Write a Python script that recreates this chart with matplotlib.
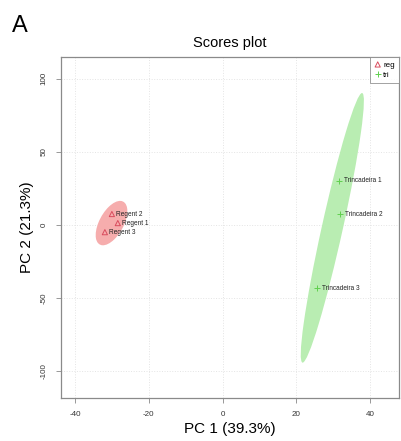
import matplotlib.pyplot as plt
import numpy as np
from matplotlib.patches import Ellipse

plt.rcParams['font.family'] = ['Liberation Sans', 'DejaVu Sans']

# PCA scores
reg_names = ["Regent 1", "Regent 2", "Regent 3"]
reg_pc1 = [-28.4, -30.0, -31.9]
reg_pc2 = [1.4, 7.6, -4.8]

tri_names = ["Trincadeira 1", "Trincadeira 2", "Trincadeira 3"]
tri_pc1 = [31.6, 31.9, 25.7]
tri_pc2 = [30.2, 7.6, -43.3]

xticks = [-40, -20, 0, 20, 40]
yticks = [-100, -50, 0, 50, 100]


def conf_ellipse(x, y, color):
    # 95% ellipse, as R's ellipse() with qchisq(0.95, 2)
    x = np.asarray(x)
    y = np.asarray(y)
    cov = np.cov(x, y)
    vals, vecs = np.linalg.eigh(cov)
    order = vals.argsort()[::-1]
    vals, vecs = vals[order], vecs[:, order]
    t = np.sqrt(5.991)
    angle = np.degrees(np.arctan2(vecs[1, 0], vecs[0, 0]))
    e = Ellipse((x.mean(), y.mean()), 2 * t * np.sqrt(vals[0]), 2 * t * np.sqrt(vals[1]),
                angle=angle, facecolor=color, edgecolor='none', zorder=1)
    return e


fig = plt.figure(figsize=(4.01, 4.41), dpi=100)
ax = fig.add_axes([0.152, 0.098, 0.843, 0.773])

ax.add_patch(conf_ellipse(reg_pc1, reg_pc2, '#F6ADAD'))
ax.add_patch(conf_ellipse(tri_pc1, tri_pc2, '#B9EDB2'))

ax.scatter(reg_pc1, reg_pc2, marker='^', facecolors='none', edgecolors='#D94C5E',
           s=14, linewidths=0.7, zorder=3, label='reg')
ax.scatter(tri_pc1, tri_pc2, marker='+', c='#61D04F', s=16, linewidths=0.7,
           zorder=3, label='tri')

for n, x, y in zip(reg_names, reg_pc1, reg_pc2):
    ax.text(x + 1.2, y, n, fontsize=4.7, va='center', ha='left', color='#222222', zorder=4)
for n, x, y in zip(tri_names, tri_pc1, tri_pc2):
    ax.text(x + 1.2, y, n, fontsize=4.7, va='center', ha='left', color='#222222', zorder=4)

ax.set_xlim(-43.8, 47.8)
ax.set_ylim(-118, 115)
ax.set_xticks(xticks)
ax.set_yticks(yticks)
ax.set_xticklabels([str(v) for v in xticks], fontsize=5.8, color='#333333')
ax.set_yticklabels([str(v) for v in yticks], fontsize=5.8, color='#333333',
                   rotation=90, va='center')
ax.tick_params(axis='both', length=3.5, width=0.6, color='#888888', pad=6)
ax.grid(True, color='#E4E4E4', linestyle=':', linewidth=0.7)
ax.set_axisbelow(True)
for sp in ax.spines.values():
    sp.set_color('#8A8A8A')
    sp.set_linewidth(0.9)

ax.set_xlabel('PC 1 (39.3%)', fontsize=11, labelpad=3)
ax.set_ylabel('PC 2 (21.3%)', fontsize=11, labelpad=5)
ax.set_title('Scores plot', fontsize=10.5, pad=7)

leg = ax.legend(loc='upper right', fontsize=5.8, frameon=True, fancybox=False,
                borderaxespad=0, handletextpad=0.3, borderpad=0.5,
                handlelength=0.8, labelspacing=0.3)
leg.get_frame().set_edgecolor('#8A8A8A')
leg.get_frame().set_linewidth(0.7)

fig.text(0.03, 0.965, 'A', fontsize=17, va='top', ha='left')

fig.savefig('out.png', dpi=100)
